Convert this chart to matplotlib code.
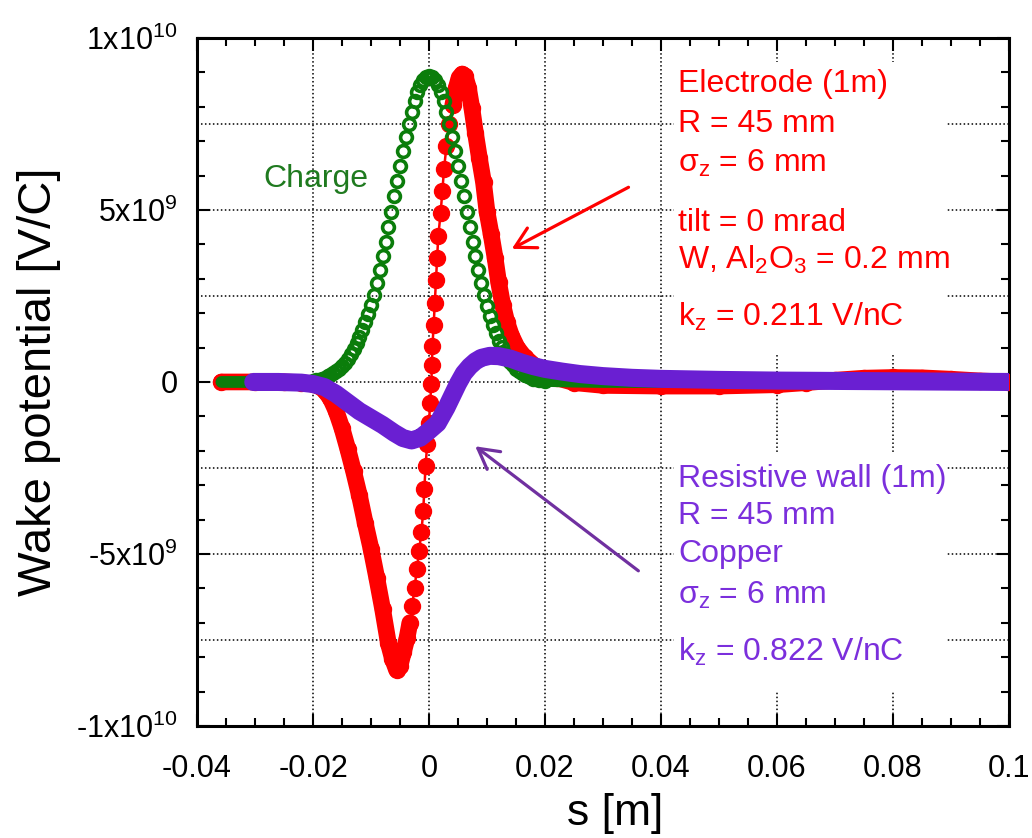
import numpy as np
import matplotlib.pyplot as plt
from matplotlib.patches import Rectangle

plt.rcParams['font.family'] = ['Liberation Sans', 'DejaVu Sans']
plt.rcParams['mathtext.fontset'] = 'custom'
plt.rcParams['mathtext.rm'] = 'Liberation Sans'
plt.rcParams['mathtext.it'] = 'Liberation Sans:italic'

# wake values are read in units of 1e9 V/C, s in m
UNIT = 1e9

# electrode wake, split where the dots separate on the steep rise
red_s_dip = [-0.0358, -0.030, -0.025, -0.022, -0.020, -0.019, -0.018, -0.017, -0.016,
             -0.015, -0.014, -0.013, -0.012, -0.011, -0.010, -0.009, -0.008, -0.007,
             -0.0063, -0.0056, -0.0050, -0.0044, -0.0038, -0.0033]
red_w_dip = [0.0, 0.0, 0.0, -0.02, -0.06, -0.12, -0.25, -0.48, -0.85,
             -1.35, -1.95, -2.6, -3.3, -4.1, -4.85, -5.7, -6.6, -7.6,
             -8.05, -8.37, -8.25, -7.85, -7.45, -7.0]
red_s_rise = [-0.0029, -0.0025, -0.0021, -0.0017, -0.0013, -0.0010, -0.0008, -0.0006,
              -0.0003, 0.0000, 0.0002, 0.0004, 0.0005, 0.0006, 0.0008, 0.0010, 0.0012,
              0.0014, 0.0016, 0.0020, 0.0023, 0.0026, 0.0030, 0.0035]
red_w_rise = [-6.5, -6.0, -5.45, -4.9, -4.35, -3.75, -3.1, -2.45,
              -1.8, -1.2, -0.6, -0.05, 0.5, 1.05, 1.65, 2.3, 2.95,
              3.6, 4.25, 4.9, 5.55, 6.2, 6.85, 7.5]
red_s_tail = [0.0041, 0.0047, 0.0052, 0.0057, 0.0062, 0.0068, 0.0074, 0.0080, 0.0087,
              0.0094, 0.0100, 0.0107, 0.0114, 0.0120, 0.0127, 0.0134, 0.0142, 0.0152,
              0.0165, 0.018, 0.020, 0.022, 0.025, 0.030, 0.040, 0.050, 0.060, 0.065,
              0.070, 0.075, 0.080, 0.085, 0.090, 0.095, 0.0998]
red_w_tail = [8.05, 8.55, 8.85, 8.95, 8.9, 8.55, 7.95, 7.25, 6.5,
              5.8, 4.95, 4.3, 3.6, 2.9, 2.25, 1.75, 1.35, 1.0,
              0.72, 0.5, 0.3, 0.12, -0.02, -0.1, -0.12, -0.12, -0.08, -0.02,
              0.05, 0.11, 0.13, 0.12, 0.08, 0.03, 0.0]

# charge (bunch profile, scaled)
green_s_left = [-0.0358, -0.032, -0.028, -0.024, -0.0205]
green_w_left = [0.0, 0.0, 0.0, 0.0, 0.02]
green_s = [-0.0200, -0.0195, -0.0190, -0.0185, -0.0180, -0.0175, -0.0170, -0.0165, -0.0160,
           -0.0155, -0.0150, -0.0145, -0.0140, -0.0135, -0.0130, -0.0125, -0.0120, -0.0115,
           -0.0110, -0.0105, -0.0100, -0.0095, -0.0090, -0.0085, -0.0080, -0.0075, -0.0070,
           -0.0065, -0.0060, -0.0055, -0.0050, -0.0045, -0.0040, -0.0035, -0.0030, -0.0025,
           -0.0020, -0.0015, -0.0010, -0.0005, 0.0000, 0.0005, 0.0010, 0.0015, 0.0020,
           0.0025, 0.0030, 0.0035, 0.0040, 0.0045, 0.0050, 0.0055, 0.0060, 0.0065,
           0.0070, 0.0075, 0.0080, 0.0085, 0.0090, 0.0095, 0.0100, 0.0105, 0.0110,
           0.0115, 0.0120, 0.0125, 0.0130, 0.0135, 0.0140, 0.0145, 0.0150, 0.0155,
           0.0160, 0.0165, 0.0170, 0.0175, 0.0180, 0.0185, 0.0190, 0.0195, 0.0200]
green_w = [0.04, 0.05, 0.07, 0.09, 0.12, 0.16, 0.20, 0.25, 0.31,
           0.38, 0.46, 0.56, 0.68, 0.82, 0.97, 1.14, 1.32, 1.52,
           1.73, 1.97, 2.24, 2.54, 2.89, 3.26, 3.66, 4.07, 4.51,
           4.95, 5.40, 5.85, 6.29, 6.72, 7.13, 7.51, 7.85, 8.16,
           8.42, 8.63, 8.78, 8.87, 8.90, 8.87, 8.78, 8.63, 8.42,
           8.16, 7.85, 7.51, 7.13, 6.72, 6.29, 5.85, 5.40, 4.95,
           4.51, 4.07, 3.66, 3.26, 2.89, 2.54, 2.22, 1.93, 1.66,
           1.42, 1.20, 1.02, 0.85, 0.71, 0.58, 0.48, 0.39, 0.32,
           0.25, 0.20, 0.16, 0.13, 0.10, 0.08, 0.06, 0.05, 0.03]
green_s_right = [0.0200, 0.025, 0.030, 0.040, 0.060, 0.080, 0.0998]
green_w_right = [0.03, 0.01, 0.0, 0.0, 0.0, 0.0, 0.0]

# resistive wall wake
purple_s = [-0.0303, -0.026, -0.022, -0.020, -0.018, -0.016, -0.014, -0.012, -0.010,
            -0.008, -0.006, -0.0045, -0.003, -0.0015, 0.000, 0.0015, 0.003, 0.004,
            0.005, 0.006, 0.007, 0.008, 0.009, 0.0105, 0.012, 0.014, 0.016, 0.018,
            0.020, 0.023, 0.026, 0.030, 0.035, 0.040, 0.050, 0.060, 0.070, 0.080,
            0.090, 0.0998]
purple_w = [0.0, 0.0, -0.02, -0.06, -0.15, -0.35, -0.6, -0.85, -1.05,
            -1.25, -1.48, -1.63, -1.70, -1.62, -1.42, -1.2, -0.75, -0.4,
            -0.05, 0.25, 0.45, 0.6, 0.7, 0.76, 0.75, 0.68, 0.56, 0.46,
            0.38, 0.3, 0.23, 0.17, 0.12, 0.09, 0.06, 0.04, 0.03, 0.02,
            0.01, 0.0]

RED = '#ff0000'
GREEN = '#0b7d0b'
PURPLE = '#6a1fd2'

fig = plt.figure(figsize=(10.32, 8.38), dpi=100)
ax = fig.add_axes([0.1909, 0.1337, 0.7868, 0.821])

# dotted grid
for gx in [-0.02, 0.0, 0.02, 0.04, 0.06, 0.08]:
    ax.axvline(gx, color='black', lw=1.1, ls=(0, (1, 1.6)), zorder=1)
for gy in [-7.5, -5, -2.5, 0, 2.5, 5, 7.5]:
    ax.axhline(gy * UNIT, color='black', lw=1.1, ls=(0, (1, 1.6)), zorder=1)

# white panels behind the text blocks
ax.add_patch(Rectangle((0.0422, 0.81 * UNIT), 0.0470, 8.49 * UNIT, fc='white', ec='none', zorder=1.5))
ax.add_patch(Rectangle((0.0422, -9.01 * UNIT), 0.0470, 6.92 * UNIT, fc='white', ec='none', zorder=1.5))

# electrode wake
r_all_s = red_s_dip + red_s_rise + red_s_tail
r_all_w = np.array(red_w_dip + red_w_rise + red_w_tail) * UNIT
ax.plot(r_all_s, r_all_w, color=RED, lw=1.8, zorder=3)
ax.plot(red_s_dip, np.array(red_w_dip) * UNIT, color=RED, lw=12, solid_capstyle='round',
        solid_joinstyle='round', zorder=3)
ax.plot(red_s_tail, np.array(red_w_tail) * UNIT, color=RED, lw=12, solid_capstyle='round',
        solid_joinstyle='round', zorder=3)
ax.plot(r_all_s, r_all_w, 'o', color=RED, ms=11.5, zorder=3)

# charge
ax.plot(green_s_left, np.array(green_w_left) * UNIT, color=GREEN, lw=8.5, solid_capstyle='round', zorder=4)
ax.plot(green_s_right, np.array(green_w_right) * UNIT, color=GREEN, lw=8.5, solid_capstyle='round', zorder=4)
ax.plot(green_s, np.array(green_w) * UNIT, 'o', mfc='none', mec=GREEN, mew=2.6, ms=8.5, zorder=4)

# resistive wall wake
ax.plot(purple_s, np.array(purple_w) * UNIT, color=PURPLE, lw=13, solid_capstyle='round',
        solid_joinstyle='round', zorder=5)

ax.set_xlim(-0.04, 0.1)
ax.set_ylim(-1e10, 1e10)
ax.set_xticks([-0.04, -0.02, 0, 0.02, 0.04, 0.06, 0.08, 0.1])
ax.set_xticklabels(['-0.04', '-0.02', '0', '0.02', '0.04', '0.06', '0.08', '0.1'])
ax.set_xticks(np.arange(-0.04, 0.1001, 0.005), minor=True)
ax.set_yticks([-1e10, -5e9, 0, 5e9, 1e10])
ax.set_yticklabels(['-1x10$^{10}$', '-5x10$^{9}$', '0', '5x10$^{9}$', '1x10$^{10}$'])
ax.set_yticks(np.arange(-1e10, 1.0001e10, 1e9), minor=True)
ax.tick_params(which='both', direction='in', top=True, right=True, width=1.5, labelsize=22)
ax.tick_params(which='major', length=9)
ax.tick_params(which='minor', length=6)
ax.tick_params(axis='x', pad=20)
ax.tick_params(axis='y', pad=14)
for sp in ax.spines.values():
    sp.set_linewidth(2.2)

ax.set_xlabel('s [m]', fontsize=32)
ax.xaxis.set_label_coords(0.515, -0.098)
ax.set_ylabel('Wake potential [V/C]', fontsize=34)
ax.yaxis.set_label_coords(-0.168, 0.5)

# annotations
tx = 0.0430
ax.text(-0.0285, 5.67 * UNIT, 'Charge', color='#1f7a1f', fontsize=23, zorder=6)
red_lines = ['Electrode (1m)', 'R = 45 mm', 'σ$_\\mathrm{z}$ = 6 mm', 'tilt = 0 mrad',
             'W, Al$_\\mathrm{2}$O$_\\mathrm{3}$ = 0.2 mm', 'k$_\\mathrm{z}$ = 0.211 V/nC']
red_base = [8.42, 7.26, 6.10, 4.40, 3.28, 1.64]
for t, b in zip(red_lines, red_base):
    ax.text(tx, b * UNIT, t, color=RED, fontsize=23, zorder=6)
pur_lines = ['Resistive wall (1m)', 'R = 45 mm', 'Copper', 'σ$_\\mathrm{z}$ = 6 mm',
             'k$_\\mathrm{z}$ = 0.822 V/nC']
pur_base = [-3.06, -4.13, -5.24, -6.45, -8.10]
for t, b in zip(pur_lines, pur_base):
    ax.text(tx, b * UNIT, t, color='#7b2fdc', fontsize=23, zorder=6)

ax.annotate('', xy=(0.01428, 3.87 * UNIT), xytext=(0.0344, 5.66 * UNIT),
            arrowprops=dict(arrowstyle='->,head_length=1.45,head_width=0.8', color=RED,
                            lw=2.3, shrinkA=0, shrinkB=0), zorder=6)
ax.annotate('', xy=(0.00797, -1.87 * UNIT), xytext=(0.0361, -5.49 * UNIT),
            arrowprops=dict(arrowstyle='->,head_length=1.45,head_width=0.8', color='#7030a0',
                            lw=2.3, shrinkA=0, shrinkB=0), zorder=6)

fig.savefig('out.png', dpi=100)
